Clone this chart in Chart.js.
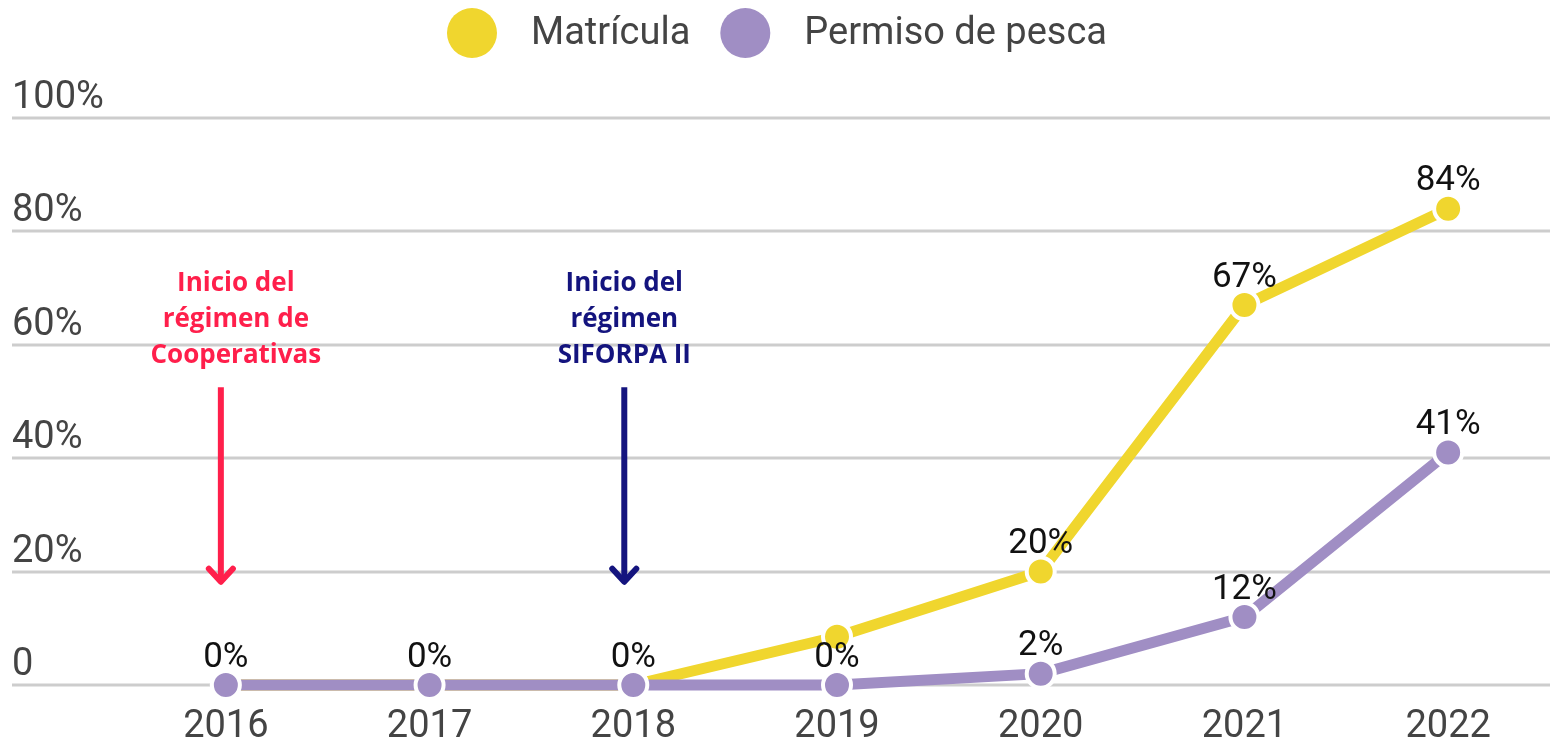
<!DOCTYPE html>
<html lang="es">
<head>
  <meta charset="UTF-8" />
  <title>Matrícula y Permiso de pesca</title>
  <script src="https://cdn.jsdelivr.net/npm/chart.js"></script>
  <style>
    html, body { margin: 0; padding: 0; background: #fff; }
    #wrap { width: 1550px; height: 744px; }
  </style>
</head>
<body>
  <div id="wrap"><canvas id="chart" width="1550" height="744"></canvas></div>

  <script>
    // data
    const years = ['2016', '2017', '2018', '2019', '2020', '2021', '2022'];
    const matricula = [0, 0, 0, 8.5, 20, 67, 84];
    const permiso = [0, 0, 0, 0, 2, 12, 41];
    const matriculaLabels = [null, null, null, null, '20%', '67%', '84%'];
    const permisoLabels = ['0%', '0%', '0%', '0%', '2%', '12%', '41%'];
    const yTicks = [0, 20, 40, 60, 80, 100];
    const yTickLabels = ['0', '20%', '40%', '60%', '80%', '100%'];
    const noteYears = ['2016', '2018'];
    const noteTexts = [
      ['Inicio del', 'régimen de', 'Cooperativas'],
      ['Inicio del', 'régimen', 'SIFORPA II']
    ];

    const YELLOW = '#f0d62e';
    const PURPLE = '#a08ec4';
    const GREY = '#444';

    // gridlines + y labels, full width like the original
    const gridPlugin = {
      id: 'grid',
      beforeDatasetsDraw(chart) {
        const { ctx } = chart;
        const y = chart.scales.y;
        ctx.save();
        ctx.strokeStyle = '#cdcdcd';
        ctx.lineWidth = 3;
        ctx.font = '38px Roboto';
        ctx.fillStyle = GREY;
        ctx.textBaseline = 'alphabetic';
        yTicks.forEach((v, i) => {
          const py = Math.round(y.getPixelForValue(v));
          ctx.beginPath();
          ctx.moveTo(12, py);
          ctx.lineTo(chart.width, py);
          ctx.stroke();
          ctx.fillText(yTickLabels[i], 12, py - 10);
        });
        ctx.restore();
      }
    };

    // legend with big dots on top
    const legendPlugin = {
      id: 'bigLegend',
      afterDraw(chart) {
        const { ctx } = chart;
        ctx.save();
        ctx.font = '38px Roboto';
        ctx.textBaseline = 'middle';
        const r = 25, gapText = 34, gapItem = 30;
        const items = chart.data.datasets.map(ds => ({
          label: ds.label, color: ds.backgroundColor, w: ctx.measureText(ds.label).width
        }));
        let total = 0;
        items.forEach((it, i) => { total += 2 * r + gapText + it.w + (i ? gapItem : 0); });
        let x = chart.width / 2 - total / 2 + 2;
        const cy = 33;
        items.forEach(it => {
          ctx.fillStyle = it.color;
          ctx.beginPath();
          ctx.arc(x + r, cy, r, 0, Math.PI * 2);
          ctx.fill();
          x += 2 * r + gapText;
          ctx.fillStyle = GREY;
          ctx.fillText(it.label, x, cy + 1);
          x += it.w + gapItem;
        });
        ctx.restore();
      }
    };

    // value labels over the points
    const valueLabels = {
      id: 'valueLabels',
      afterDatasetsDraw(chart) {
        const { ctx } = chart;
        const sets = [matriculaLabels, permisoLabels];
        ctx.save();
        ctx.font = '35px Roboto';
        ctx.fillStyle = '#111';
        ctx.textAlign = 'center';
        ctx.textBaseline = 'middle';
        sets.forEach((labels, di) => {
          const meta = chart.getDatasetMeta(di);
          meta.data.forEach((pt, i) => {
            if (labels[i]) ctx.fillText(labels[i], pt.x, pt.y - 27);
          });
        });
        ctx.restore();
      }
    };

    // "Inicio del régimen ..." notes with arrows
    const notesPlugin = {
      id: 'notes',
      afterDraw(chart) {
        const { ctx } = chart;
        const xs = chart.scales.x, ys = chart.scales.y;
        const colors = ['#ff1f4b', '#14147e'];
        const textDx = [10, -9];
        const arrowDx = [-5, -9];
        ctx.save();
        noteYears.forEach((yr, n) => {
          const px = xs.getPixelForValue(years.indexOf(yr));
          const top = ys.getPixelForValue(52.5);
          const tip = ys.getPixelForValue(18.2);
          ctx.fillStyle = colors[n];
          ctx.strokeStyle = colors[n];
          ctx.font = 'bold 26px "Open Sans"';
          ctx.textAlign = 'center';
          ctx.textBaseline = 'middle';
          noteTexts[n].forEach((t, k) => {
            ctx.fillText(t, px + textDx[n], top - 104 + k * 36);
          });
          const ax = px + arrowDx[n];
          ctx.lineWidth = 6;
          ctx.lineCap = 'butt';
          ctx.beginPath();
          ctx.moveTo(ax, top);
          ctx.lineTo(ax, tip - 3);
          ctx.stroke();
          ctx.lineCap = 'round';
          ctx.lineJoin = 'round';
          ctx.beginPath();
          ctx.moveTo(ax - 12, tip - 13);
          ctx.lineTo(ax, tip);
          ctx.lineTo(ax + 12, tip - 13);
          ctx.stroke();
        });
        ctx.restore();
      }
    };

    new Chart(document.getElementById('chart'), {
      type: 'line',
      data: {
        labels: years,
        datasets: [
          {
            label: 'Matrícula',
            data: matricula,
            borderColor: YELLOW,
            backgroundColor: YELLOW,
            borderWidth: 11,
            pointRadius: 14,
            pointBorderWidth: 4,
            pointBorderColor: '#fff',
            pointBackgroundColor: YELLOW,
            order: 1,
            clip: false
          },
          {
            label: 'Permiso de pesca',
            data: permiso,
            borderColor: PURPLE,
            backgroundColor: PURPLE,
            borderWidth: 11,
            pointRadius: 14,
            pointBorderWidth: 4,
            pointBorderColor: '#fff',
            pointBackgroundColor: PURPLE,
            order: 0,
            clip: false
          }
        ]
      },
      options: {
        responsive: false,
        animation: false,
        layout: { autoPadding: false, padding: { top: 118, left: 124, right: 0, bottom: 0 } },
        plugins: {
          legend: { display: false },
          tooltip: { enabled: false }
        },
        scales: {
          x: {
            offset: true,
            grid: { display: false },
            border: { display: false },
            afterFit(scale) { scale.height = 59; },
            ticks: {
              color: GREY,
              padding: 12,
              font: { family: 'Roboto', size: 38 }
            }
          },
          y: {
            display: false,
            min: 0,
            max: 100
          }
        }
      },
      plugins: [gridPlugin, valueLabels, notesPlugin, legendPlugin]
    });
  </script>
</body>
</html>
